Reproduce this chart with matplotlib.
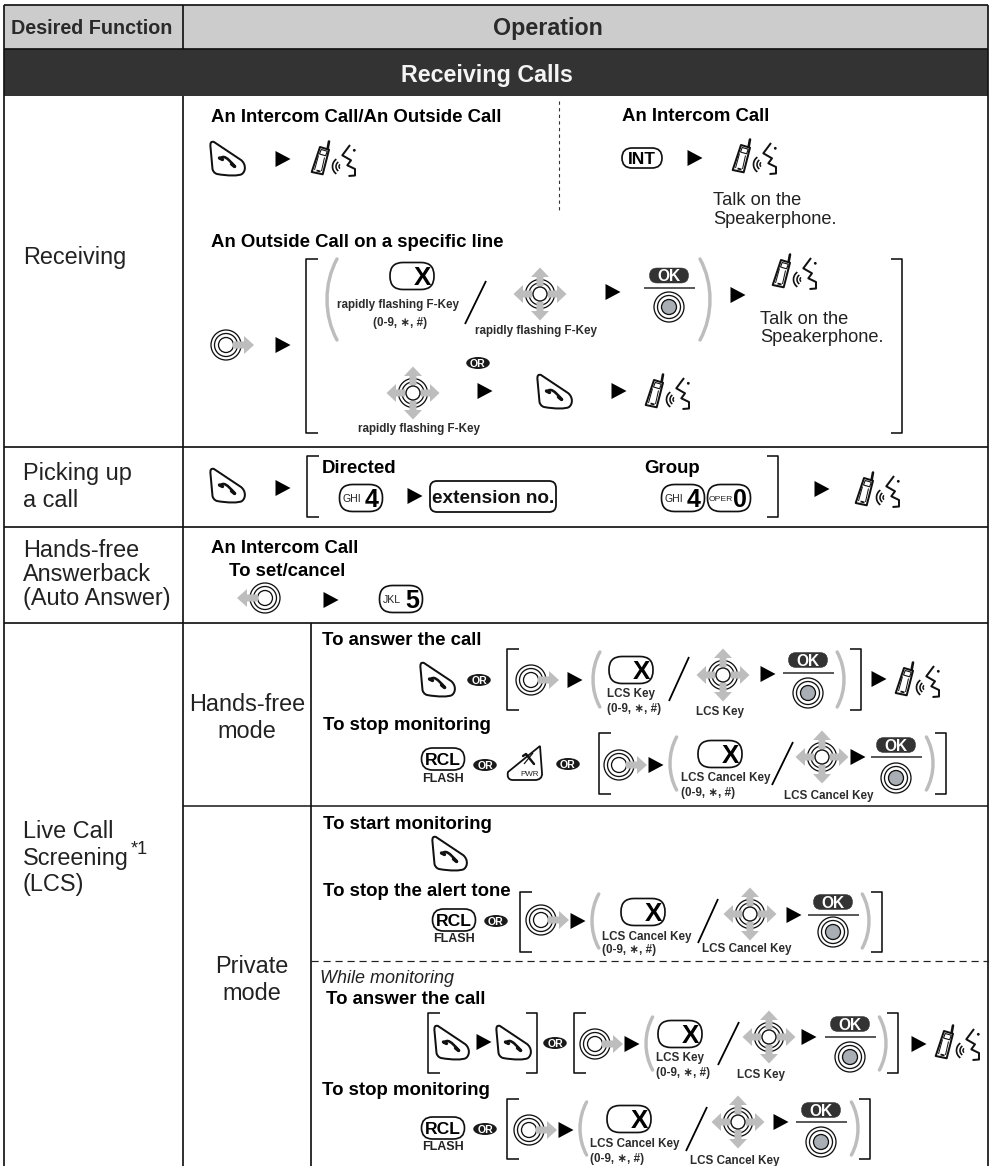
import numpy as np
import matplotlib
matplotlib.use("Agg")
import matplotlib.pyplot as plt
from matplotlib.patches import FancyBboxPatch, Circle, Ellipse, Polygon, Rectangle, PathPatch
from matplotlib.path import Path

plt.rcParams['font.family'] = ['Liberation Sans', 'DejaVu Sans']

# ---------- text content ----------
HEAD_FUNC = "Desired Function"
HEAD_OPER = "Operation"
SECTION = "Receiving Calls"
RAPID = "rapidly flashing F-Key"
KEYS09 = "(0-9, \u2217, #)"
LCS = "LCS Key"
LCSC = "LCS Cancel Key"
TALK = ["Talk on the", "Speakerphone."]

# (text, left x, centre y)
ROW_LABELS = [("Receiving", 23, 256), ("Picking up", 23, 472), ("a call", 23, 499),
              ("Hands-free", 23, 549), ("Answerback", 23, 573), ("(Auto Answer)", 23, 597),
              ("Live Call", 23, 830), ("Screening", 23, 857), ("(LCS)", 23, 883)]
MODE_LABELS = [("Hands-free", 247, 703), ("mode", 247, 730), ("Private", 252, 965), ("mode", 252, 992)]
BOLD_HEADS = [("An Intercom Call/An Outside Call", 211, 115), ("An Intercom Call", 622, 114),
              ("An Outside Call on a specific line", 211, 240), ("Directed", 322, 466), ("Group", 644, 466),
              ("An Intercom Call", 211, 546), ("To set/cancel", 229, 569),
              ("To answer the call", 322, 638), ("To stop monitoring", 323, 723),
              ("To start monitoring", 323, 822), ("To stop the alert tone", 323, 889),
              ("To answer the call", 326, 997), ("To stop monitoring", 322, 1088)]
SMALL_LABELS = [(RAPID, 337, 304), (KEYS09, 373, 322), (RAPID, 475, 330), (RAPID, 358, 428),
                (LCS, 607, 693), (KEYS09, 607, 708), (LCS, 696, 711),
                (LCSC, 681, 777), (KEYS09, 681, 792), (LCSC, 784, 795),
                (LCSC, 602, 936), (KEYS09, 602, 949), (LCSC, 702, 948),
                (LCS, 656, 1057), (KEYS09, 656, 1072), (LCS, 737, 1074),
                (LCSC, 590, 1143), (KEYS09, 590, 1158), (LCSC, 690, 1160)]

# ---------- icon placement ----------
HANDSETS = [(228, 159), (555, 392), (228, 486), (438, 680), (450, 854), (452, 1043), (514, 1043)]
ARROWS = [(283, 159), (695, 158), (283, 345), (613, 292), (738, 295), (485, 391), (619, 391),
          (283, 488), (415, 496), (822, 489), (331, 600), (575, 680), (768, 674), (879, 679),
          (656, 765), (858, 757), (578, 921), (794, 915), (484, 1042), (632, 1044), (809, 1037),
          (919, 1044), (566, 1130), (781, 1122)]
PHONES = [(334, 159), (755, 157), (795, 272), (668, 392), (878, 490), (918, 680), (958, 1043)]
OR_BADGES = [(478, 363), (479, 680), (485, 765), (568, 764), (496, 921), (555, 1043), (485, 1129)]
X_KEYS = [(412, 276), (631, 670), (720, 754), (643, 912), (680, 1034), (629, 1119)]
NAV_KEYS = [(540, 294), (413, 393), (723, 675), (822, 757), (750, 914), (769, 1037), (738, 1122)]
RADIO_KEYS = [(226, 345), (531, 680), (619, 765), (541, 920), (595, 1044), (529, 1130)]
OK_KEYS = [(669, 275.5, 288, 307), (808, 660, 673, 693), (896, 745, 757, 778),
           (833, 902, 915, 932), (850, 1024, 1037, 1057), (821, 1110, 1122, 1142)]
SLASHES = [(465, 324, 486, 281), (669, 701, 689, 657), (772, 785, 793, 742),
           (698, 943, 718, 899), (718, 1065, 739, 1022), (686, 1151, 707, 1107)]
BRACKETS_L = [(306, 259, 433), (307, 456, 517), (507, 649, 710), (599, 733, 794),
              (520, 892, 952), (428, 1013, 1073), (574, 1013, 1073), (507, 1099, 1159)]
BRACKETS_R = [(902, 259, 433), (778, 456, 517), (861, 649, 710), (946, 733, 794),
              (882, 892, 952), (537, 1013, 1073), (898, 1013, 1073), (870, 1099, 1159)]
PARENS_L = [(327, 259, 340), (593, 652, 707), (670, 737, 790), (592, 894, 948), (646, 1017, 1070), (580, 1102, 1155)]
PARENS_R = [(710, 259, 340), (844, 652, 707), (933, 737, 790), (869, 894, 948), (886, 1017, 1070), (858, 1102, 1155)]
NUM_KEYS = [(361, 498, "GHI", "4"), (683, 498, "GHI", "4"), (729, 498, "OPER", "0"), (401, 599, "JKL", "5")]
RCL_KEYS = [(443, 759), (454, 920), (443, 1128)]

fig = plt.figure(figsize=(9.91, 11.66), dpi=100)
ax = fig.add_axes([0, 0, 1, 1])
ax.set_xlim(0, 991)
ax.set_ylim(1166, 0)
ax.axis('off')

_z = [10]
def nz():
    _z[0] += 1
    return _z[0]

INK = "#111111"
GRAY = "#bdbdbd"
PX = 0.72

def T(s, x, y, px, bold=False, ha='left', color="#222222", italic=False, z=None):
    ax.text(x, y + 0.36 * px, s, fontsize=px * PX, fontweight='bold' if bold else 'normal',
            ha=ha, va='baseline', color=color, style='italic' if italic else 'normal', zorder=z or nz())

def L(xs, ys, w=1.5, color=INK, **kw):
    ax.plot(xs, ys, lw=w * PX, color=color, solid_capstyle=kw.pop('cap', 'butt'), zorder=nz(), **kw)

def pill(x, y, w, h, r, fc='white', ec=INK, lw=1.6):
    ax.add_patch(FancyBboxPatch((x - w / 2, y - h / 2), w, h, boxstyle=f"round,pad=0,rounding_size={r}",
                                fc=fc, ec=ec, lw=lw * PX, zorder=nz()))

def circ(x, y, r, fc='none', ec=INK, lw=1.3):
    ax.add_patch(Circle((x, y), r, fc=fc, ec=ec, lw=lw * PX, zorder=nz()))

def handset(x, y):
    v = [(-14, -17), (13, 1), (18, 5), (18, 12), (14, 15), (11, 17), (0, 17), (-11, 15), (-14, 14), (-15, 12),
         (-15.5, 10), (-17.5, -12), (-18, -16), (-17, -18), (-14, -17), (-14, -17)]
    c = [Path.MOVETO, Path.LINETO, Path.CURVE4, Path.CURVE4, Path.CURVE4, Path.CURVE4, Path.CURVE4, Path.CURVE4,
         Path.CURVE4, Path.CURVE4, Path.CURVE4, Path.LINETO, Path.CURVE4, Path.CURVE4, Path.CURVE4, Path.CLOSEPOLY]
    ax.add_patch(PathPatch(Path([(x + a, y + b) for a, b in v], c), fc='white', ec=INK, lw=2 * PX, zorder=nz()))
    g = Path([(x - 8, y - 0.5), (x - 4, y - 4), (x - 1, y - 1.5), (x + 7, y + 7.5)],
             [Path.MOVETO, Path.CURVE4, Path.CURVE4, Path.CURVE4])
    ax.add_patch(PathPatch(g, fc='none', ec=INK, lw=2.6 * PX, capstyle='round', zorder=nz()))
    L([x - 8.5, x - 5.5], [y - 1, y + 0.5], 3.4, cap='round')
    L([x + 3.5, x + 6.5], [y + 5, y + 7.5], 3.4, cap='round')

def arrow(x, y):
    ax.add_patch(Polygon([(x - 7.5, y - 8), (x + 7.5, y), (x - 7.5, y + 8)], fc='black', ec='none', zorder=nz()))

def phone(x, y):
    body = [(-14, -12), (-5, -9.3), (-11.3, 15.3), (-22.3, 13)]
    ax.add_patch(Polygon([(x + a, y + b) for a, b in body], fc='white', ec=INK, lw=2 * PX, joinstyle='round', zorder=nz()))
    L([x - 6.3, x - 5], [y - 10.5, y - 17.5], 2.6, cap='round')
    scr = [(-12.8, -9.5), (-6.7, -7.8), (-8.4, -3.2), (-14.5, -5)]
    ax.add_patch(Polygon([(x + a, y + b) for a, b in scr], fc='white', ec=INK, lw=1.1 * PX, zorder=nz()))
    L([x - 15.5, x - 19.5], [y - 3.5, y + 11], 1)
    L([x - 9.5, x - 12.5], [y - 1.5, y + 12], 1)
    L([x - 17.5, x - 13.5], [y + 11.5, y + 12.5], 1.8)
    for r, w in ((2.5, 1.5), (5.5, 1.6), (9, 1.7)):
        a = np.radians(np.linspace(125, 235, 16))
        L(x + 7.5 + r * np.cos(a), y + 7.5 + r * np.sin(a), w)
    face = [(16, -14), (8.3, -3.7), (17, 1.3), (13.3, 6.3), (21, 10), (21, 16.5), (14.5, 17)]
    L([x + a for a, b in face], [y + b for a, b in face], 2)
    circ(x + 20.3, y - 8.7, 1.4, fc=INK, lw=0)

def or_badge(x, y):
    ax.add_patch(Ellipse((x, y), 23.5, 12, fc='#1a1a1a', ec='none', zorder=nz()))
    T("OR", x, y, 10.5, bold=True, ha='center', color='white')

def x_key(x, y):
    pill(x, y, 44, 27, 13, lw=1.7)
    T("X", x + 10.5, y, 26, bold=True, ha='center', color='black')

def ring(x, y, r, a0, a1, w=1.1):
    a = np.radians(np.linspace(a0, a1, 24))
    L(x + r * np.cos(a), y + r * np.sin(a), w)

def nav(x, y):
    for a in (10, 100, 190, 280):
        ring(x, y, 14.5, a, a + 70, 1.3)
        ring(x, y, 11, a, a + 70, 1.3)
    for dx, dy in ((1, 0), (-1, 0), (0, 1), (0, -1)):
        px_, py_ = -dy, dx
        poly = [(x + dx * 8 + px_ * 3.5, y + dy * 8 + py_ * 3.5), (x + dx * 17 + px_ * 3.5, y + dy * 17 + py_ * 3.5),
                (x + dx * 17 + px_ * 9, y + dy * 17 + py_ * 9), (x + dx * 26.5, y + dy * 26.5),
                (x + dx * 17 - px_ * 9, y + dy * 17 - py_ * 9), (x + dx * 17 - px_ * 3.5, y + dy * 17 - py_ * 3.5),
                (x + dx * 8 - px_ * 3.5, y + dy * 8 - py_ * 3.5)]
        ax.add_patch(Polygon(poly, fc=GRAY, ec='none', zorder=nz()))
    circ(x, y, 7, fc='white', lw=1.4)

def radio(x, y, d=1):
    circ(x, y, 15, fc='white')
    circ(x, y, 11.5)
    circ(x, y, 7.5)
    poly = [(x + d * 7, y - 3.5), (x + d * 18, y - 3.5), (x + d * 18, y - 9), (x + d * 28, y),
            (x + d * 18, y + 9), (x + d * 18, y + 3.5), (x + d * 7, y + 3.5)]
    ax.add_patch(Polygon(poly, fc=GRAY, ec='none', zorder=nz()))

def ok_key(x, y, yl, yc):
    pill(x, y, 39, 15, 7.5, fc='#333333', ec='#333333', lw=0.5)
    T("OK", x, y, 15.5, bold=True, ha='center', color='white')
    L([x - 25.5, x + 25.5], [yl, yl], 1.6, color='#333333')
    circ(x, yc, 15, fc='white')
    circ(x, yc, 11.5)
    circ(x, yc, 7.5, fc='#a9adb4', lw=1.3)

def bracket(x, y0, y1, d):
    L([x + d * 11.5, x, x, x + d * 11.5], [y0, y0, y1, y1], 1.6)

def paren(x, y0, y1, d):
    depth = min(10, (y1 - y0) / 8)
    ends = x + d * depth
    ctrl = x - d * depth / 3
    v = [(ends, y0), (ctrl, y0 + (y1 - y0) * 0.3), (ctrl, y0 + (y1 - y0) * 0.7), (ends, y1)]
    ax.add_patch(PathPatch(Path(v, [Path.MOVETO, Path.CURVE4, Path.CURVE4, Path.CURVE4]), fc='none',
                           ec=GRAY, lw=3.4 * PX, capstyle='round', zorder=nz()))

def num_key(x, y, small, big):
    pill(x, y, 43, 27, 13, lw=1.7)
    n = len(small)
    T(small, x - 9 if n == 3 else x - 8, y, 10.5 if n == 3 else 8.5, ha='center')
    T(big, x + 11, y, 25, bold=True, ha='center', color='black')

def rcl_key(x, y):
    pill(x, y, 43, 22, 11, lw=1.7)
    T("RCL", x, y, 17.5, bold=True, ha='center', color='black')
    T("FLASH", x, y + 18, 12.5, bold=True, ha='center')

def pwr_key(x, y):
    v = [(15, -17), (17, 10), (17.5, 15), (14, 17), (10, 17), (-12, 17), (-17, 17), (-18, 13), (-17, 9), (15, -17), (15, -17)]
    c = [Path.MOVETO, Path.LINETO, Path.CURVE4, Path.CURVE4, Path.CURVE4, Path.LINETO, Path.CURVE4, Path.CURVE4,
         Path.CURVE4, Path.LINETO, Path.CLOSEPOLY]
    ax.add_patch(PathPatch(Path([(x + a, y + b) for a, b in v], c), fc='white', ec=INK, lw=1.8 * PX, zorder=nz()))
    L([x - 2, x + 1, x + 9], [y - 7, y - 9, y + 1], 2.4, cap='round')
    L([x - 1, x + 8], [y + 1, y - 10], 1.2)
    T("PWR", x - 5, y + 10, 8)

# ---------- table ----------
ax.add_patch(Rectangle((4, 5), 984, 44, fc='#cccccc', ec='none', zorder=1))
ax.add_patch(Rectangle((4, 49), 984, 47, fc='#333333', ec='none', zorder=1))
T(HEAD_FUNC, 92, 27, 19.8, bold=True, ha='center', color='#2a2a2a')
T(HEAD_OPER, 548, 27, 23.3, bold=True, ha='center', color='#2a2a2a')
T(SECTION, 487, 74, 23.3, bold=True, ha='center', color='#f4f4f4')

for y in (5, 49, 446.5, 527, 622.5):
    L([4, 988], [y, y], 1.7)
L([183, 988], [806, 806], 1.5)
L([4, 4], [5, 1166], 1.7)
L([988, 988], [5, 1166], 1.7)
L([183, 183], [5, 49], 1.7)
L([183, 183], [96, 1166], 1.7)
L([311, 311], [623, 1166], 1.7)
L([559, 559], [101, 212], 1.1, color='#333333', linestyle=(0, (3, 3)))
L([311, 988], [961, 961], 1.2, color='#222222', linestyle=(0, (6, 4)))

for s, x, y in ROW_LABELS:
    T(s, x, y, 23.5)
T("*1", 131, 848, 18)
for s, x, y in MODE_LABELS:
    T(s, x, y, 23.5, ha='center')
for s, x, y in BOLD_HEADS:
    T(s, x, y, 18.6, bold=True, color='black')
for s, x, y in SMALL_LABELS:
    T(s, x, y, 11.6, bold=True, color='#2c2c2c')
for yy, s in zip((198, 217), TALK):
    T(s, 713, yy, 18.3)
for yy, s in zip((317, 335), TALK):
    T(s, 760, yy, 18.3)
T("While monitoring", 320, 977, 18, italic=True)

# ---------- icons ----------
for b in BRACKETS_L:
    bracket(b[0], b[1], b[2], 1)
for b in BRACKETS_R:
    bracket(b[0], b[1], b[2], -1)
for p in PARENS_L:
    paren(p[0], p[1], p[2], 1)
for p in PARENS_R:
    paren(p[0], p[1], p[2], -1)
for p in HANDSETS:
    handset(*p)
for p in ARROWS:
    arrow(*p)
for p in PHONES:
    phone(*p)
for p in OR_BADGES:
    or_badge(*p)
for p in X_KEYS:
    x_key(*p)
for p in NAV_KEYS:
    nav(*p)
for p in RADIO_KEYS:
    radio(*p)
radio(265, 598, -1)
for p in OK_KEYS:
    ok_key(*p)
for s in SLASHES:
    L([s[0], s[2]], [s[1], s[3]], 1.8, color='black')
for k in NUM_KEYS:
    num_key(*k)
for p in RCL_KEYS:
    rcl_key(*p)
pill(642, 158, 40, 20, 10, lw=1.7)
T("INT", 642, 158, 17.5, bold=True, ha='center', color='black')
pill(493, 496.5, 126, 31, 7, lw=1.8)
T("extension no.", 493, 496, 19, bold=True, ha='center', color='#111111')
pwr_key(525, 763)

fig.savefig("out.png", dpi=100, facecolor='white')
